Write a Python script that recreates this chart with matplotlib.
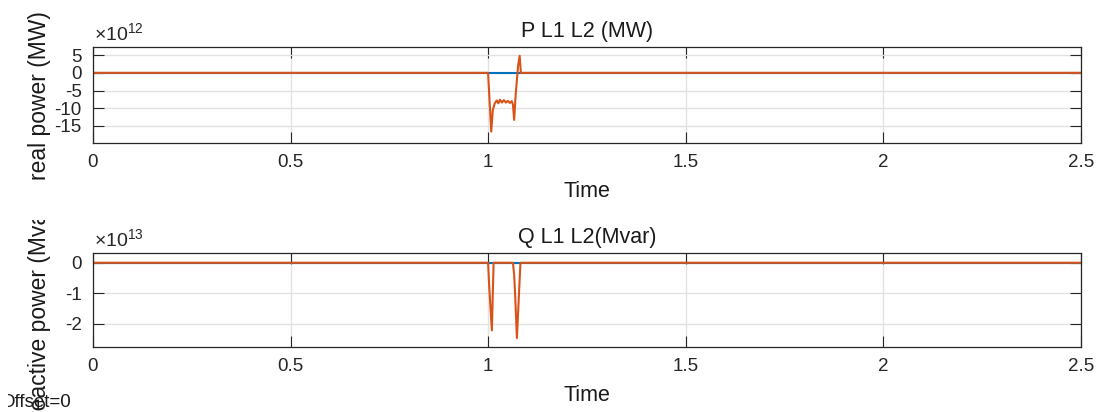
import matplotlib
matplotlib.use("Agg")
import matplotlib.pyplot as plt
from matplotlib.transforms import Bbox

plt.rcParams['font.family'] = ['Liberation Sans', 'DejaVu Sans']
plt.rcParams['mathtext.fontset'] = 'custom'
plt.rcParams['mathtext.rm'] = 'Liberation Sans'

# time axis limits / ticks
x_ticks = [0, 0.5, 1, 1.5, 2, 2.5]
x_tick_labels = ['0', '0.5', '1', '1.5', '2', '2.5']

# P L1 L2 (units of 1e12 MW)
p_time = [0, 1.0, 1.008, 1.012, 1.017, 1.022, 1.026, 1.030, 1.035, 1.040,
          1.045, 1.050, 1.055, 1.060, 1.063, 1.066, 1.070, 1.076, 1.080, 1.083, 2.5]
p_orange = [0, 0, -16.6, -10.5, -8.6, -7.8, -8.6, -7.6, -8.4, -7.7,
            -8.4, -7.9, -8.5, -8.0, -9.0, -13.3, -6.0, 2.0, 4.8, 0, 0]
p_blue_time = [0, 2.5]
p_blue = [0, 0]
p_yticks = [-15, -10, -5, 0, 5]

# Q L1 L2 (units of 1e13 Mvar)
q_time = [0, 1.0, 1.003, 1.0096, 1.012, 1.014, 1.063, 1.066, 1.068, 1.073,
          1.079, 1.082, 2.5]
q_orange = [0, 0, -0.8, -2.21, -1.0, 0, 0, -0.4, -0.9, -2.46,
            -0.8, 0, 0]
q_blue_time = [0, 2.5]
q_blue = [0, 0]
q_yticks = [-2, -1, 0]

blue = '#0072BD'
orange = '#D95319'
dark = '#262626'

fig = plt.figure(figsize=(11, 4.12), dpi=100)
ax1 = fig.add_axes([0.0845, 0.653, 0.898, 0.233])
ax2 = fig.add_axes([0.0845, 0.158, 0.898, 0.228])


def style(ax, yticks, ylim, title, exp):
    ax.set_xlim(0, 2.5)
    ax.set_ylim(*ylim)
    ax.set_xticks(x_ticks)
    ax.set_xticklabels(x_tick_labels)
    ax.set_yticks(yticks)
    ax.set_yticklabels([str(v) for v in yticks])
    ax.tick_params(direction='in', length=8, width=0.8, colors=dark,
                   labelsize=13.5, top=True, right=True, pad=8)
    ax.grid(True, color='#e2e2e2', linewidth=1)
    ax.set_axisbelow(True)
    for s in ax.spines.values():
        s.set_color(dark)
        s.set_linewidth(0.9)
    ax.set_title(title, fontsize=15.5, color='#1a1a1a', pad=7)
    ax.set_xlabel('Time', fontsize=15.5, color='#1a1a1a', labelpad=7)
    ax.text(0.001, 1.03, r'$\mathregular{\times10^{%d}}$' % exp,
            transform=ax.transAxes, fontsize=14, color=dark,
            ha='left', va='bottom')


ax1.plot(p_blue_time, p_blue, color=blue, linewidth=1.5)
ax1.plot(p_time, p_orange, color=orange, linewidth=1.5)
style(ax1, p_yticks, (-19.8, 7.3), 'P L1 L2 (MW)', 12)

ax2.plot(q_blue_time, q_blue, color=blue, linewidth=1.5)
ax2.plot(q_time, q_orange, color=orange, linewidth=1.5)
style(ax2, q_yticks, (-2.75, 0.32), 'Q L1 L2(Mvar)', 13)

fig.text(0.036, 0.767, 'real power (MW)', rotation=90, fontsize=16.5,
         color='#1a1a1a', ha='center', va='center')

lab = fig.text(0.036, 0.255, 'reactive power (Mvar)', rotation=90,
               fontsize=16.5, color='#1a1a1a', ha='center', va='center')
lab.set_clip_box(Bbox([[0, 0], [200, 192]]))
lab.set_clip_on(True)

off = fig.text(0.0, 0.022, 'Offset=0', fontsize=13.5, color='#1a1a1a',
               ha='left', va='center')
off.set_clip_box(Bbox([[8, 0], [200, 40]]))
off.set_clip_on(True)

fig.savefig('out.png', dpi=100)
